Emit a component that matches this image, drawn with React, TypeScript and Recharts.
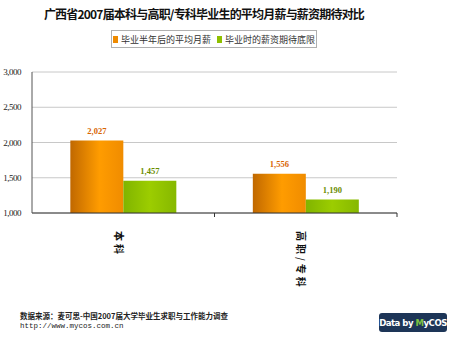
import { BarChart, Bar, XAxis, YAxis, CartesianGrid, LabelList } from 'recharts';

const categories = ['本科', '高职/专科'];
const avgSalaryHalfYear = [2027, 1556];
const expectedMinSalary = [1457, 1190];
const yTicks = [1000, 1500, 2000, 2500, 3000];
const seriesNames = ['毕业半年后的平均月薪', '毕业时的薪资期待底限'];

const chartData = categories.map((name, i) => ({
  name,
  avg: avgSalaryHalfYear[i],
  expect: expectedMinSalary[i],
}));

const fmt = (v: number) => v.toLocaleString('en-US');

const CategoryTick = (props: any) => {
  const { x, y, payload } = props;
  const half = payload?.offset ?? 0;
  return (
    <g>
      <line x1={x + half} x2={x + half} y1={y - 8} y2={y - 4} stroke="#333" />
      <text
        x={x - 4}
        y={y + 10}
        transform={`rotate(90, ${x - 4}, ${y + 10})`}
        textAnchor="start"
        dominantBaseline="central"
        fontSize={10}
        fontWeight="bold"
        fill="#111"
        fontFamily="'Noto Sans CJK SC', sans-serif"
        letterSpacing={3}
      >
        {payload.value}
      </text>
    </g>
  );
};

export default function App() {
  return (
    <div style={{ position: 'absolute', left: 0, top: 0, width: 450, height: 339, background: '#fff', overflow: 'hidden' }}>
      <div
        style={{
          position: 'absolute', left: 0, top: 5, width: 408, textAlign: 'center', whiteSpace: 'nowrap',
          fontFamily: "'Noto Sans CJK SC', sans-serif", fontWeight: 'bold', fontSize: 12,
          letterSpacing: -0.8, color: '#111',
        }}
      >
        广西省2007届本科与高职/专科毕业生的平均月薪与薪资期待对比
      </div>
      <div
        style={{
          position: 'absolute', left: 111, top: 30, width: 204, height: 16, whiteSpace: 'nowrap',
          border: '1px solid #b0b0b0', display: 'flex', alignItems: 'center', justifyContent: 'center',
          fontFamily: "'Noto Sans CJK SC', sans-serif", fontSize: 9, color: '#333', gap: 3,
        }}
      >
        <span style={{ width: 5, height: 7, background: '#ee8a00', display: 'inline-block', flexShrink: 0 }} />
        <span>{seriesNames[0]}</span>
        <span style={{ width: 5, height: 7, background: '#8fc000', display: 'inline-block', marginLeft: 3, flexShrink: 0 }} />
        <span>{seriesNames[1]}</span>
      </div>
      <BarChart
        width={450}
        height={339}
        data={chartData}
        margin={{ top: 72, right: 53, left: 0, bottom: 0 }}
        barCategoryGap="21%"
        barGap={0}
      >
        <defs>
          <linearGradient id="gOrange" x1="0" y1="0" x2="1" y2="0">
            <stop offset="0%" stopColor="#c06800" />
            <stop offset="55%" stopColor="#ff9c00" />
            <stop offset="100%" stopColor="#f08c00" />
          </linearGradient>
          <linearGradient id="gGreen" x1="0" y1="0" x2="1" y2="0">
            <stop offset="0%" stopColor="#80b400" />
            <stop offset="50%" stopColor="#9ccd00" />
            <stop offset="100%" stopColor="#86b800" />
          </linearGradient>
        </defs>
        <CartesianGrid vertical={false} stroke="#c8c8c8" />
        <XAxis
          dataKey="name"
          height={126}
          tickLine={false}
          axisLine={{ stroke: '#333' }}
          tick={<CategoryTick />}
          interval={0}
        />
        <YAxis
          domain={[1000, 3000]}
          ticks={yTicks}
          width={32}
          tickLine={false}
          axisLine={{ stroke: '#555' }}
          tickFormatter={fmt}
          tick={{ fontSize: 9, fill: '#222', fontFamily: "'Liberation Serif', serif", letterSpacing: -0.5 }}
          tickMargin={5}
        />
        <YAxis yAxisId="right" orientation="right" width={0} tick={false} tickLine={false} axisLine={{ stroke: '#999' }} domain={[1000, 3000]} />
        <Bar dataKey="avg" fill="url(#gOrange)" isAnimationActive={false}>
          <LabelList
            dataKey="avg"
            position="top"
            offset={7}
            formatter={(v: any) => fmt(v)}
            style={{ fontSize: 8.5, fill: '#d86400', fontFamily: "'Liberation Serif', serif", fontWeight: 'bold' }}
          />
        </Bar>
        <Bar dataKey="expect" fill="url(#gGreen)" isAnimationActive={false}>
          <LabelList
            dataKey="expect"
            position="top"
            offset={7}
            formatter={(v: any) => fmt(v)}
            style={{ fontSize: 8.5, fill: '#6a8c00', fontFamily: "'Liberation Serif', serif", fontWeight: 'bold' }}
          />
        </Bar>
      </BarChart>
      <div
        style={{
          position: 'absolute', left: 20, top: 310, fontSize: 7.5, fontWeight: 'bold',
          fontFamily: "'Noto Sans CJK SC', sans-serif", color: '#222', whiteSpace: 'nowrap',
        }}
      >
        数据来源：麦可思-中国2007届大学毕业生求职与工作能力调查
      </div>
      <div
        style={{
          position: 'absolute', left: 20, top: 322, fontSize: 7.5, fontFamily: "'Liberation Mono', monospace",
          color: '#222', whiteSpace: 'nowrap',
        }}
      >
        http://www.mycos.com.cn
      </div>
      <div
        style={{
          position: 'absolute', left: 379, top: 313, width: 68, height: 19, background: '#1d3557', whiteSpace: 'nowrap',
          borderRadius: 3, color: '#fff', fontFamily: "'DejaVu Sans Condensed', 'DejaVu Sans', sans-serif", fontWeight: 'bold',
          fontSize: 9.5, letterSpacing: -0.5, display: 'flex', alignItems: 'center', justifyContent: 'center',
        }}
      >
        Data by&nbsp;<span style={{ color: '#7cc242' }}>M</span>yCOS
      </div>
    </div>
  );
}
